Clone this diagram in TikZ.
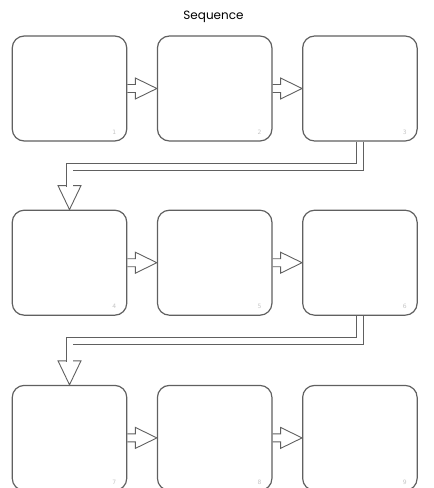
\documentclass[tikz,border=0pt]{standalone}
\usepackage{fontspec}
\setmainfont{DejaVu Sans}
\newfontfamily\titlefont{Poppins}
\usetikzlibrary{positioning, calc, backgrounds}

\tikzset{
  stepbox/.style={draw=gray!75!black, line width=1.2pt, rounded corners=12pt, fill=white,
    minimum width=114.5pt, minimum height=105pt, inner sep=0pt},
  boxnum/.style={font=\fontsize{6}{7}\selectfont, text=gray!45},
  flow/.style={draw=gray!75!black, line width=0.9pt, fill=white, line join=miter},
  flowline/.style={draw=gray!75!black, line width=0.9pt, double=white, double distance=6pt, line join=miter},
}

% block arrow from one box to the next one on its right
\newcommand{\sidearrow}[2]{%
  \path[flow] ($(#1.east)+(0,-4)$) -- ($(#1.east)+(8,-4)$) -- ($(#1.east)+(8,-10.5)$)
    -- (#2.west) -- ($(#1.east)+(8,10.5)$) -- ($(#1.east)+(8,4)$) -- ($(#1.east)+(0,4)$);}

% bent block arrow from the last box of a row down to the first box of the next row
\newcommand{\downlink}[2]{%
  \path[flow] ($(#2.north)+(-11.5,-24)$) -- (#2.north) -- ($(#2.north)+(11.5,-24)$) -- cycle;
  \draw[flowline] (#1.south) -- ++(0,25) -| ($(#2.north)+(0,-23)$);}

\begin{document}
\begin{tikzpicture}[x=1pt, y=-1pt]
    \useasboundingbox (0,0) rectangle (434,488);

    % title
    \node[font=\titlefont\fontsize{12}{14}\selectfont] (title) at (213.5,17) {Sequence};

    % row 1
    \node[stepbox] (b1) at (69.5,88.5) {};
    \node[stepbox, right=29.5pt of b1] (b2) {};
    \node[stepbox, right=29.5pt of b2] (b3) {};
    % row 2
    \node[stepbox, below=68pt of b1] (b4) {};
    \node[stepbox, right=29.5pt of b4] (b5) {};
    \node[stepbox, right=29.5pt of b5] (b6) {};
    % row 3
    \node[stepbox, below=69pt of b4] (b7) {};
    \node[stepbox, right=29.5pt of b7] (b8) {};
    \node[stepbox, right=29.5pt of b8] (b9) {};

    % numbers in the corners
    \foreach \i in {1,...,9}
        \node[boxnum] (n\i) at ($(b\i.south east)+(-13,-9)$) {\i};

    % arrows
    \begin{scope}[on background layer]
        \sidearrow{b1}{b2}
        \sidearrow{b2}{b3}
        \sidearrow{b4}{b5}
        \sidearrow{b5}{b6}
        \sidearrow{b7}{b8}
        \sidearrow{b8}{b9}
        \downlink{b3}{b4}
        \downlink{b6}{b7}
    \end{scope}
\end{tikzpicture}
\end{document}
